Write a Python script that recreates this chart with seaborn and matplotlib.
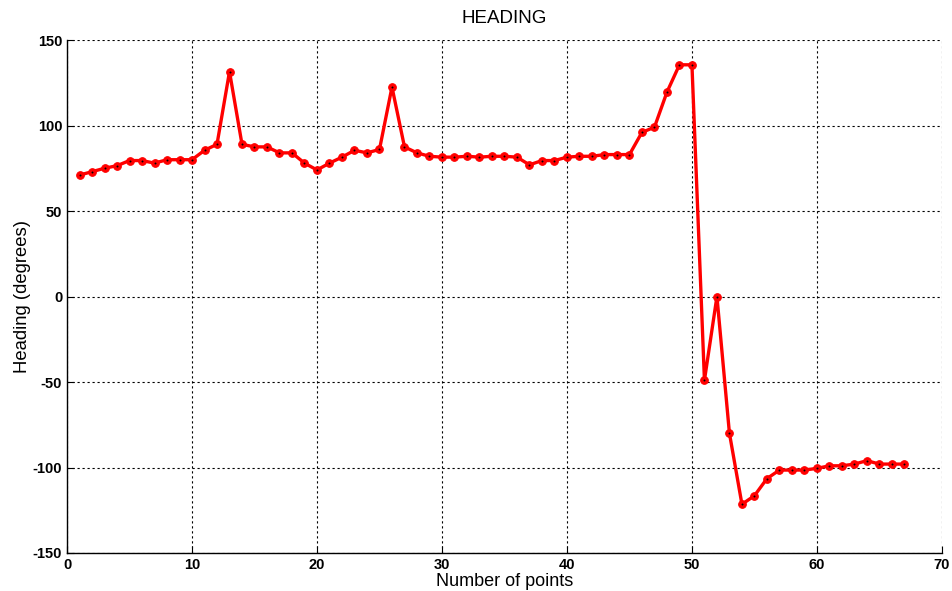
import matplotlib
matplotlib.use("Agg")
import matplotlib.pyplot as plt
import seaborn as sns
import pandas as pd

# Heading samples, one per recorded point
points = list(range(1, 68))
heading = [
    71, 73, 75, 76.5, 79.5, 79.5, 78, 80, 80, 80,
    85.5, 89, 131.5, 89, 87.5, 87.5, 84, 84, 78, 74,
    78, 81.5, 85.5, 84, 86, 122.5, 87.5, 84, 82, 81.5,
    81.5, 82, 81.5, 82, 82, 81.5, 77, 79.5, 79.5, 81.5,
    82, 82, 83, 83, 83, 96, 99, 119.5, 135.5, 135.5,
    -49, 0, -80, -121.5, -116.5, -106.5, -101.5, -101.5, -101.5, -100.5,
    -99, -99, -98, -96, -98, -98, -98,
]
x_ticks = [0, 10, 20, 30, 40, 50, 60, 70]
y_ticks = [-150, -100, -50, 0, 50, 100, 150]

df = pd.DataFrame({"point": points, "heading": heading})

sns.set_theme(style="white")
plt.rcParams["font.family"] = ["Liberation Sans", "DejaVu Sans"]
plt.rcParams["axes.unicode_minus"] = False
plt.rcParams["text.color"] = "black"
plt.rcParams["axes.labelcolor"] = "black"

fig = plt.figure(figsize=(9.52, 5.91), dpi=100)
ax = fig.add_axes([0.0704, 0.0643, 0.919, 0.868])

sns.lineplot(data=df, x="point", y="heading", ax=ax, color="#ff0000",
             linewidth=2.4, marker="o", markersize=5.5,
             markerfacecolor="#ff0000", markeredgecolor="#ff0000", zorder=3)
sns.scatterplot(data=df, x="point", y="heading", ax=ax, color="black",
                s=2, linewidth=0, zorder=4)

ax.set_xlim(0, 70)
ax.set_ylim(-150, 150)
ax.set_xticks(x_ticks)
ax.set_yticks(y_ticks)
ax.grid(True, linestyle=(0, (2, 2.5)), color="black", linewidth=0.8)
ax.set_axisbelow(True)

for side in ("top", "right"):
    ax.spines[side].set_visible(False)
for side in ("left", "bottom"):
    ax.spines[side].set_color("black")
    ax.spines[side].set_linewidth(1.0)

ax.tick_params(direction="in", length=5, width=0.8, colors="black",
               labelsize=10.5, bottom=True, left=True)
for lbl in ax.get_xticklabels() + ax.get_yticklabels():
    lbl.set_fontweight("bold")

ax.set_title("HEADING", fontsize=13.5, pad=12, color="black")
ax.set_xlabel("Number of points", fontsize=13, labelpad=1)
ax.set_ylabel("Heading (degrees)", fontsize=13.3, labelpad=1)

fig.savefig("out.png", dpi=100, facecolor="white")
